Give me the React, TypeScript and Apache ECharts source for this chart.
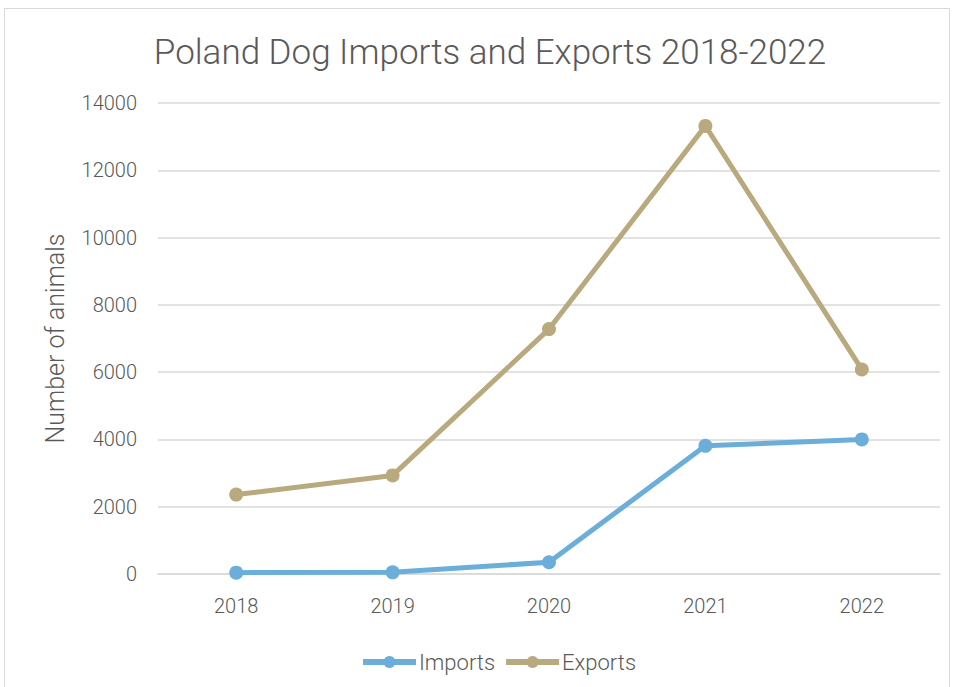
import React, { useEffect, useRef } from "react";
import * as echarts from "echarts";

const years = ["2018", "2019", "2020", "2021", "2022"];
const imports = [40, 50, 350, 3810, 4000];
const exports = [2360, 2930, 7280, 13320, 6080];
const yTicks = { min: 0, max: 14000, interval: 2000 };

const FONT = "Roboto";
const TEXT = "#595959";

export default function App() {
  const ref = useRef<HTMLDivElement>(null);
  useEffect(() => {
    const chart = echarts.init(ref.current!, null, { renderer: "svg" });
    chart.setOption({
      animation: false,
      backgroundColor: "#ffffff",
      textStyle: { fontFamily: FONT },
      title: {
        text: "Poland Dog Imports and Exports 2018-2022",
        left: 485,
        textAlign: "center",
        top: 30,
        textStyle: { fontFamily: FONT, fontSize: 35, fontWeight: 300, color: TEXT },
      },
      graphic: [
        {
          type: "rect",
          shape: { x: 4.5, y: 8.5, width: 945, height: 690 },
          style: { fill: "none", stroke: "#d9d9d9", lineWidth: 1 },
          silent: true,
        },
      ],
      legend: {
        top: 646,
        left: 355,
        itemWidth: 53,
        itemHeight: 15,
        itemGap: 8,
        lineStyle: { width: 6 },
        textStyle: { fontFamily: FONT, fontSize: 22, fontWeight: 300, color: TEXT, padding: [0, 0, 0, -2] },
        data: ["Imports", "Exports"],
      },
      grid: { left: 158, right: 14, top: 103, bottom: 113 },
      xAxis: {
        type: "category",
        data: years,
        boundaryGap: true,
        axisLine: { lineStyle: { color: "#d9d9d9", width: 1.5 } },
        axisTick: { show: false },
        axisLabel: { fontFamily: FONT, fontSize: 20, fontWeight: 300, color: TEXT, margin: 22 },
      },
      yAxis: {
        type: "value",
        min: yTicks.min,
        max: yTicks.max,
        interval: yTicks.interval,
        name: "Number of animals",
        nameLocation: "middle",
        nameGap: 90,
        nameTextStyle: { fontFamily: FONT, fontSize: 25, fontWeight: 300, color: TEXT },
        axisLine: { show: false },
        axisTick: { show: false },
        axisLabel: {
          fontFamily: FONT,
          fontSize: 20,
          fontWeight: 300,
          color: TEXT,
          margin: 21,
          formatter: (v: number) => String(v),
        },
        splitLine: { lineStyle: { color: "#d9d9d9", width: 1.5 } },
      },
      series: [
        {
          name: "Imports",
          type: "line",
          data: imports,
          symbol: "circle",
          symbolSize: 14,
          lineStyle: { width: 5, color: "#6baed9" },
          itemStyle: { color: "#6baed9" },
        },
        {
          name: "Exports",
          type: "line",
          data: exports,
          symbol: "circle",
          symbolSize: 14,
          lineStyle: { width: 5, color: "#b9a97f" },
          itemStyle: { color: "#b9a97f" },
        },
      ],
    });
    return () => chart.dispose();
  }, []);
  return (
    <div
      ref={ref}
      style={{ position: "fixed", left: 0, top: 0, width: 954, height: 687 }}
    />
  );
}
